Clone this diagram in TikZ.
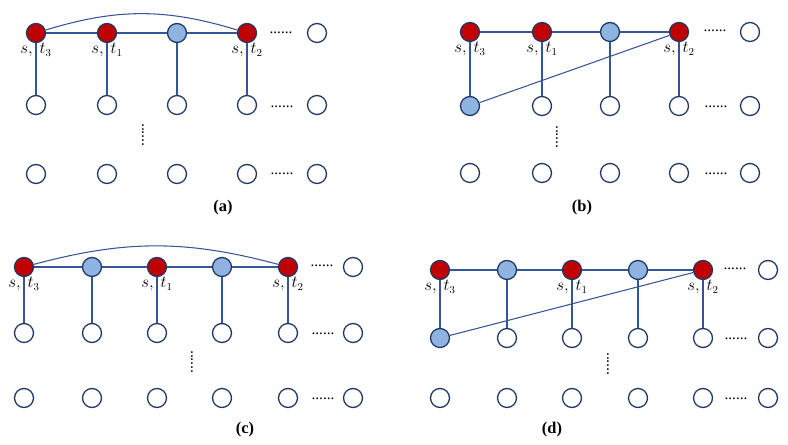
\documentclass[tikz,border=0pt]{standalone}
\usepackage{fontspec}
\setmainfont{Liberation Serif}

\definecolor{MYline}{RGB}{32,56,100}
\definecolor{MYedge}{RGB}{52,86,150}
\definecolor{MYred}{RGB}{192,0,0}
\definecolor{MYblue}{RGB}{143,180,226}

\newcommand\MYsize{5.7mm}

\tikzset{
  emptynode/.style={circle, draw=MYline, line width=1.1pt, fill=white, minimum size=\MYsize, inner sep=0pt},
  rednode/.style={emptynode, fill=MYred},
  bluenode/.style={emptynode, fill=MYblue},
  st/.style={label={[inner sep=0pt, font=\fontsize{13.5}{15}\selectfont]below:$s,\ t_{#1}$}},
  link/.style={draw=MYedge, line width=0.9pt},
  hdots/.style={font=\fontsize{13}{13}\selectfont, inner sep=0pt},
  vdots/.style={hdots, rotate=90},
  caption/.style={font=\fontsize{14}{16}\selectfont\bfseries, inner sep=0pt}
}

\begin{document}
\begin{tikzpicture}[x=0.3mm, y=-0.3mm]

\useasboundingbox (0,0) rectangle (788,445);

% (a)
\foreach \x [count=\i] in {36,107,177,247,317} {
  \node[emptynode] (A2\i) at (\x,105) {};
  \node[emptynode] (A3\i) at (\x,174) {};
}
\node[rednode, st=3] (A11) at (36,33) {};
\node[rednode, st=1] (A12) at (107,33) {};
\node[bluenode] (A13) at (177,33) {};
\node[rednode, st=2] (A14) at (247,33) {};
\node[emptynode] (A15) at (317,33) {};

\draw[link] (A11) -- (A12) -- (A13) -- (A14);
\foreach \i in {1,...,4} \draw[link] (A1\i) -- (A2\i);
\draw[link] (A11) to[bend left=17] (A14);

\node[hdots] (AD1) at (281,33) {......};
\node[hdots] (AD2) at (282,107) {......};
\node[hdots] (AD3) at (282,174) {......};
\node[vdots] (AV) at (143,135) {......};
\node[caption] (AC) at (223,208) {(a)};

% (b)
\foreach \x [count=\i] in {470,542,610,679,750} {
  \node[emptynode] (B3\i) at (\x,173) {};
}
\node[bluenode] (B21) at (470,106) {};
\foreach \x [count=\i from 2] in {542,610,679,750} {
  \node[emptynode] (B2\i) at (\x,106) {};
}
\node[rednode, st=3] (B11) at (470,32) {};
\node[rednode, st=1] (B12) at (542,32) {};
\node[bluenode] (B13) at (610,32) {};
\node[rednode, st=2] (B14) at (679,32) {};
\node[emptynode] (B15) at (750,32) {};

\draw[link] (B11) -- (B12) -- (B13) -- (B14);
\foreach \i in {1,...,4} \draw[link] (B1\i) -- (B2\i);
\draw[link] (B21) -- (B14);

\node[hdots] (BD1) at (715,31) {......};
\node[hdots] (BD2) at (716,107) {......};
\node[hdots] (BD3) at (716,174) {......};
\node[vdots] (BV) at (557,137) {......};
\node[caption] (BC) at (582,208) {(b)};

% (c)
\foreach \x [count=\i] in {24,92,157,222,288,353} {
  \node[emptynode] (C2\i) at (\x,333) {};
  \node[emptynode] (C3\i) at (\x,398) {};
}
\node[rednode, st=3] (C11) at (24,267) {};
\node[bluenode] (C12) at (92,267) {};
\node[rednode, st=1] (C13) at (157,267) {};
\node[bluenode] (C14) at (222,267) {};
\node[rednode, st=2] (C15) at (288,267) {};
\node[emptynode] (C16) at (353,267) {};

\draw[link] (C11) -- (C12) -- (C13) -- (C14) -- (C15);
\foreach \i in {1,...,5} \draw[link] (C1\i) -- (C2\i);
\draw[link] (C11) to[bend left=15] (C15);

\node[hdots] (CD1) at (322,266) {......};
\node[hdots] (CD2) at (323,334) {......};
\node[hdots] (CD3) at (323,399) {......};
\node[vdots] (CV) at (192,362) {......};
\node[caption] (CC) at (245,430) {(c)};

% (d)
\foreach \x [count=\i] in {440,507,572,638,703,768} {
  \node[emptynode] (D3\i) at (\x,398) {};
}
\node[bluenode] (D21) at (440,338) {};
\foreach \x [count=\i from 2] in {507,572,638,703,768} {
  \node[emptynode] (D2\i) at (\x,338) {};
}
\node[rednode, st=3] (D11) at (440,270) {};
\node[bluenode] (D12) at (507,270) {};
\node[rednode, st=1] (D13) at (572,270) {};
\node[bluenode] (D14) at (638,270) {};
\node[rednode, st=2] (D15) at (703,270) {};
\node[emptynode] (D16) at (768,270) {};

\draw[link] (D11) -- (D12) -- (D13) -- (D14) -- (D15);
\foreach \i in {1,...,5} \draw[link] (D1\i) -- (D2\i);
\draw[link] (D21) -- (D15);

\node[hdots] (DD1) at (735,269) {......};
\node[hdots] (DD2) at (736,339) {......};
\node[hdots] (DD3) at (736,399) {......};
\node[vdots] (DV) at (608,364) {......};
\node[caption] (DC) at (552,430) {(d)};

\end{tikzpicture}
\end{document}
